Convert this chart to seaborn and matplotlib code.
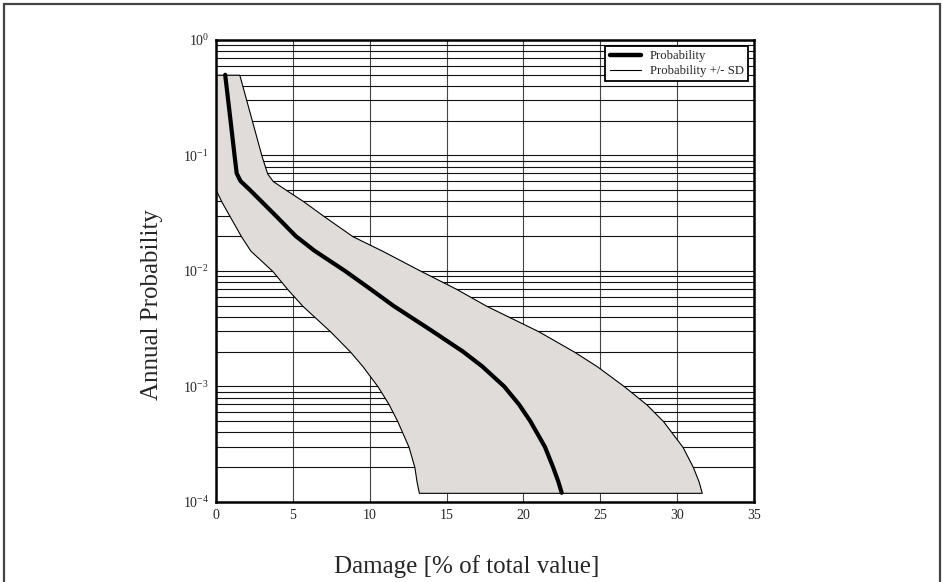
import numpy as np
import matplotlib
matplotlib.use('Agg')
import matplotlib.pyplot as plt
import seaborn as sns
from matplotlib.lines import Line2D
from matplotlib.patches import Rectangle

# 年超越概率与对应损失（% 总价值），读自原图
prob = [0.5, 0.2, 0.1, 0.07, 0.06, 0.05, 0.04, 0.03, 0.02, 0.015, 0.01, 0.007,
        0.005, 0.003, 0.002, 0.0015, 0.001, 0.0007, 0.0005, 0.0003, 0.0002,
        0.00015, 0.00012]
damage_mean = [0.6, 0.95, 1.21, 1.35, 1.6, 2.23, 2.96, 3.9, 5.2, 6.4, 8.4, 10.03,
               11.54, 14.1, 16.08, 17.3, 18.75, 19.71, 20.45, 21.4, 21.93,
               22.27, 22.49]
damage_low = [0.0, 0.0, 0.0, 0.0, 0.0, 0.0, 0.35, 0.88, 1.63, 2.24, 3.67, 4.63,
              5.62, 7.43, 8.73, 9.53, 10.52, 11.24, 11.8, 12.53, 12.91,
              13.05, 13.2]
damage_high = [1.52, 2.34, 2.96, 3.33, 3.7, 4.59, 5.7, 6.99, 8.88, 10.8, 13.33,
               15.63, 17.58, 20.99, 23.3, 24.77, 26.56, 28.0, 29.09, 30.35,
               31.03, 31.4, 31.6]

x_ticks = [0, 5, 10, 15, 20, 25, 30, 35]

sns.set_style('white')
plt.rcParams['font.family'] = ['Liberation Serif', 'DejaVu Serif']
plt.rcParams['mathtext.fontset'] = 'custom'
plt.rcParams['mathtext.rm'] = 'Liberation Serif'
plt.rcParams['mathtext.default'] = 'regular'

fig = plt.figure(figsize=(9.43, 5.82), dpi=100)
ax = fig.add_axes([0.229, 0.1375, 0.5706, 0.7938])

# 灰色带：均值 +/- 标准差
ax.fill_betweenx(prob, damage_low, damage_high, facecolor='#dfdcda',
                 edgecolor='black', linewidth=0.8, zorder=2)

# 均值曲线
sns.lineplot(x=damage_mean, y=prob, sort=False, estimator=None, color='black',
             linewidth=3.0, ax=ax, zorder=3, legend=False)

ax.set_yscale('log')
ax.set_ylim(1e-4, 1)
ax.set_xlim(0, 35)
ax.set_xticks(x_ticks)
ax.set_xticklabels([str(t) for t in x_ticks])

ax.set_axisbelow(True)
ax.grid(True, which='both', axis='y', color='#111111', linewidth=0.8)
ax.grid(True, which='major', axis='x', color='#444444', linewidth=0.8)
ax.tick_params(which='both', length=0)
ax.tick_params(axis='x', labelsize=10, pad=5)
ax.tick_params(axis='y', labelsize=10, pad=5)

for side in ['top', 'left', 'bottom', 'right']:
    ax.spines[side].set_color('black')
    ax.spines[side].set_linewidth(1.8)

# 图例
handles = [Line2D([], [], color='black', linewidth=3.2),
           Line2D([], [], color='black', linewidth=0.8)]
leg = fig.legend(handles, ['Probability', 'Probability +/- SD'],
                 loc='upper right', bbox_to_anchor=(0.7932, 0.921),
                 borderaxespad=0, fontsize=9.2, handlelength=2.4,
                 fancybox=False, framealpha=1, edgecolor='black',
                 borderpad=0.35, labelspacing=0.2, handletextpad=0.7)
leg.get_frame().set_linewidth(1.3)

fig.text(0.161, 0.476, 'Annual Probability', rotation=90, ha='center',
         va='center', fontsize=18)
fig.text(0.495, 0.027, 'Damage [% of total value]', ha='center',
         va='center', fontsize=18)

# 外框
fig.patches.append(Rectangle((0.0045, -0.05), 0.9923, 1.0431,
                             transform=fig.transFigure, fill=False,
                             edgecolor='#444444', linewidth=1.6))

fig.savefig('out.png', dpi=100)
